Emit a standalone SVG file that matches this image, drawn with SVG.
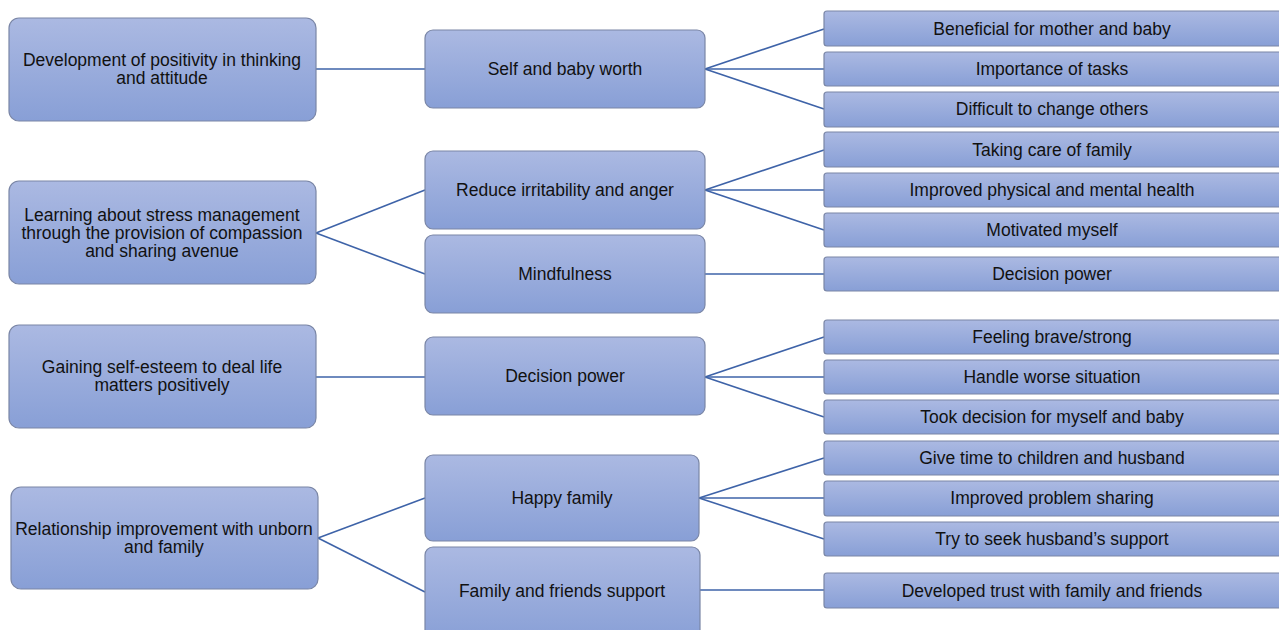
<svg xmlns="http://www.w3.org/2000/svg" width="1279" height="630" viewBox="0 0 1279 630">
<defs>
<linearGradient id="g" x1="0" y1="0" x2="0" y2="1">
<stop offset="0" stop-color="#abb9e2"/>
<stop offset="1" stop-color="#889fd6"/>
</linearGradient>
<style>
.b{fill:url(#g);stroke:#7a86a6;stroke-width:1.2}
.t{font-family:"Liberation Sans",Arial,sans-serif;font-size:17.5px;fill:#111;text-anchor:middle}
.c line{stroke:#3e63a8;stroke-width:1.6}
</style>
</defs>
<rect width="1279" height="630" fill="#fff"/>
<g class="c" id="connectors">
<line x1="316" y1="69" x2="425" y2="69"/>
<line x1="316" y1="233" x2="425" y2="190"/>
<line x1="316" y1="233" x2="425" y2="274"/>
<line x1="316" y1="377" x2="425" y2="377"/>
<line x1="318" y1="538" x2="425" y2="498"/>
<line x1="318" y1="538" x2="425" y2="592"/>
<line x1="705" y1="69" x2="824" y2="29"/>
<line x1="705" y1="69" x2="824" y2="69"/>
<line x1="705" y1="69" x2="824" y2="109"/>
<line x1="705" y1="190" x2="824" y2="150"/>
<line x1="705" y1="190" x2="824" y2="190"/>
<line x1="705" y1="190" x2="824" y2="230"/>
<line x1="705" y1="274" x2="824" y2="274"/>
<line x1="705" y1="377" x2="824" y2="337"/>
<line x1="705" y1="377" x2="824" y2="377"/>
<line x1="705" y1="377" x2="824" y2="417"/>
<line x1="699" y1="498" x2="824" y2="458"/>
<line x1="699" y1="498" x2="824" y2="498"/>
<line x1="699" y1="498" x2="824" y2="539"/>
<line x1="700" y1="590" x2="824" y2="590"/>
</g>
<g id="L1"><rect class="b" x="9" y="18" width="307" height="103" rx="10"/><text class="t" x="162" y="66">Development of positivity in thinking</text><text class="t" x="162" y="84">and attitude</text></g>
<g id="L2"><rect class="b" x="9" y="181" width="307" height="103" rx="10"/><text class="t" x="162" y="221">Learning about stress management</text><text class="t" x="162" y="239">through the provision of compassion</text><text class="t" x="162" y="257">and sharing avenue</text></g>
<g id="L3"><rect class="b" x="9" y="325" width="307" height="103" rx="10"/><text class="t" x="162" y="373">Gaining self-esteem to deal life</text><text class="t" x="162" y="391">matters positively</text></g>
<g id="L4"><rect class="b" x="11" y="487" width="307" height="102" rx="10"/><text class="t" x="164" y="535">Relationship improvement with unborn</text><text class="t" x="164" y="553">and family</text></g>
<g id="M1"><rect class="b" x="425" y="30" width="280" height="78" rx="8"/><text class="t" x="565" y="75">Self and baby worth</text></g>
<g id="M2"><rect class="b" x="425" y="151" width="280" height="78" rx="8"/><text class="t" x="565" y="196">Reduce irritability and anger</text></g>
<g id="M3"><rect class="b" x="425" y="235" width="280" height="78" rx="8"/><text class="t" x="565" y="280">Mindfulness</text></g>
<g id="M4"><rect class="b" x="425" y="337" width="280" height="78" rx="8"/><text class="t" x="565" y="382">Decision power</text></g>
<g id="M5"><rect class="b" x="425" y="455" width="274" height="86" rx="8"/><text class="t" x="562" y="504">Happy family</text></g>
<g id="M6"><rect class="b" x="425" y="547" width="275" height="95" rx="8"/><text class="t" x="562" y="597">Family and friends support</text></g>
<g id="R1"><rect class="b" x="824" y="11" width="462" height="35" rx="3"/><text class="t" x="1052" y="35">Beneficial for mother and baby</text></g>
<g id="R2"><rect class="b" x="824" y="52" width="462" height="34" rx="3"/><text class="t" x="1052" y="75">Importance of tasks</text></g>
<g id="R3"><rect class="b" x="824" y="92" width="462" height="35" rx="3"/><text class="t" x="1052" y="115">Difficult to change others</text></g>
<g id="R4"><rect class="b" x="824" y="132" width="462" height="35" rx="3"/><text class="t" x="1052" y="156">Taking care of family</text></g>
<g id="R5"><rect class="b" x="824" y="173" width="462" height="34" rx="3"/><text class="t" x="1052" y="196">Improved physical and mental health</text></g>
<g id="R6"><rect class="b" x="824" y="213" width="462" height="34" rx="3"/><text class="t" x="1052" y="236">Motivated myself</text></g>
<g id="R7"><rect class="b" x="824" y="257" width="462" height="34" rx="3"/><text class="t" x="1052" y="280">Decision power</text></g>
<g id="R8"><rect class="b" x="824" y="320" width="462" height="34" rx="3"/><text class="t" x="1052" y="343">Feeling brave/strong</text></g>
<g id="R9"><rect class="b" x="824" y="360" width="462" height="34" rx="3"/><text class="t" x="1052" y="383">Handle worse situation</text></g>
<g id="R10"><rect class="b" x="824" y="400" width="462" height="34" rx="3"/><text class="t" x="1052" y="423">Took decision for myself and baby</text></g>
<g id="R11"><rect class="b" x="824" y="441" width="462" height="34" rx="3"/><text class="t" x="1052" y="464">Give time to children and husband</text></g>
<g id="R12"><rect class="b" x="824" y="481" width="462" height="35" rx="3"/><text class="t" x="1052" y="504">Improved problem sharing</text></g>
<g id="R13"><rect class="b" x="824" y="522" width="462" height="34" rx="3"/><text class="t" x="1052" y="545">Try to seek husband’s support</text></g>
<g id="R14"><rect class="b" x="824" y="573" width="462" height="35" rx="3"/><text class="t" x="1052" y="597">Developed trust with family and friends</text></g>
</svg>
